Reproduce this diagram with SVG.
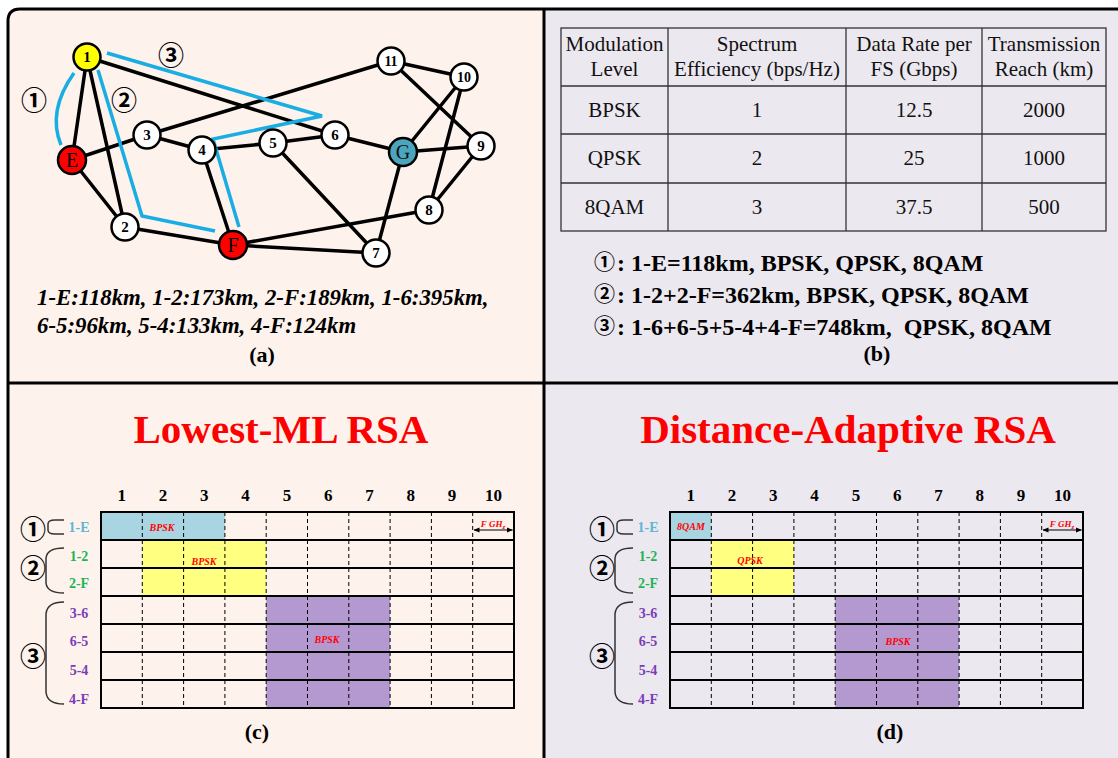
<svg xmlns="http://www.w3.org/2000/svg" width="1118" height="758" viewBox="0 0 1118 758">
<defs>
<marker id="ah" markerWidth="6" markerHeight="6" refX="5.5" refY="3" orient="auto-start-reverse" markerUnits="userSpaceOnUse"><path d="M0,0.5 L6,3 L0,5.5 z" fill="#000"/></marker>
<style>
.edge{stroke:#000;stroke-width:3.5;fill:none;stroke-linecap:round}
.route{stroke:#1aade4;stroke-width:3.5;fill:none}
.nc{stroke:#000;stroke-width:2.5}
.nl{font-family:"Liberation Serif",serif;font-weight:bold;font-size:15px;text-anchor:middle}
.nb{font-family:"Liberation Serif",serif;font-size:20px;text-anchor:middle}
.circ{font-family:"Noto Sans CJK SC","DejaVu Sans",sans-serif;font-weight:bold;font-size:26px;text-anchor:middle}
.dist{font-family:"Liberation Serif",serif;font-weight:bold;font-style:italic;font-size:22.8px}
.cap{font-family:"Liberation Serif",serif;font-weight:bold;font-size:22px;text-anchor:middle}
.tb{font-family:"Liberation Serif",serif;font-size:21px;text-anchor:middle;fill:#111}
.tl{stroke:#333;stroke-width:1.3;fill:none}
.lst{font-family:"Liberation Serif",serif;font-weight:bold;font-size:24px}
.lc{font-family:"Noto Sans CJK SC","DejaVu Sans",sans-serif;font-weight:bold;font-size:21px}
.title{font-family:"Liberation Serif",serif;font-weight:bold;font-size:41px;fill:#ff0000;text-anchor:middle}
.ch{font-family:"Liberation Serif",serif;font-weight:bold;font-size:17px;text-anchor:middle}
.rl{font-family:"Liberation Serif",serif;font-weight:bold;font-size:14px;text-anchor:middle}
.ml{font-family:"Liberation Serif",serif;font-weight:bold;font-style:italic;font-size:10px;fill:#ff0000;text-anchor:middle}
.hl{stroke:#000;stroke-width:2;fill:none}
.vl{stroke:#000;stroke-width:1;stroke-dasharray:4,3;fill:none}
.br{stroke:#333;stroke-width:1.5;fill:none}
.cb{fill:#a9d5e2}
.cy{fill:#ffff80}
.cp{fill:#b399d0}
</style>
</defs>
<rect width="1118" height="758" fill="#fff"/>
<!-- panel backgrounds -->
<path d="M8,383 V21 Q8,9 20,9 H544 V383 Z" fill="#fdf3ec"/>
<rect x="544" y="9" width="574" height="374" fill="#ece8f0"/>
<rect x="8" y="383" width="536" height="375" fill="#fdf3ec"/>
<rect x="544" y="383" width="574" height="375" fill="#ece8f0"/>
<g id="frame" stroke="#000" stroke-width="3" fill="none">
<path d="M8,758 V21 Q8,9 20,9 H1118"/>
<line x1="544" y1="9" x2="544" y2="758"/>
<line x1="8" y1="383" x2="1118" y2="383"/>
</g>

<!-- (a) network -->
<g id="connectors">
<line class="edge" x1="87" y1="57" x2="72" y2="160"/>
<line class="edge" x1="87" y1="57" x2="125" y2="227"/>
<line class="edge" x1="87" y1="57" x2="335" y2="135"/>
<line class="edge" x1="72" y1="160" x2="147" y2="135"/>
<line class="edge" x1="147" y1="135" x2="391" y2="61"/>
<line class="edge" x1="147" y1="135" x2="202" y2="150"/>
<line class="edge" x1="202" y1="150" x2="273" y2="143"/>
<line class="edge" x1="273" y1="143" x2="335" y2="135"/>
<line class="edge" x1="335" y1="135" x2="403" y2="152"/>
<line class="edge" x1="72" y1="160" x2="125" y2="227"/>
<line class="edge" x1="125" y1="227" x2="233" y2="245"/>
<line class="edge" x1="202" y1="150" x2="233" y2="245"/>
<line class="edge" x1="273" y1="143" x2="376" y2="253"/>
<line class="edge" x1="233" y1="245" x2="376" y2="253"/>
<line class="edge" x1="233" y1="245" x2="429" y2="210"/>
<line class="edge" x1="403" y1="152" x2="376" y2="253"/>
<line class="edge" x1="403" y1="152" x2="464" y2="77"/>
<line class="edge" x1="403" y1="152" x2="481" y2="146"/>
<line class="edge" x1="391" y1="61" x2="464" y2="77"/>
<line class="edge" x1="391" y1="61" x2="481" y2="146"/>
<line class="edge" x1="464" y1="77" x2="429" y2="210"/>
<line class="edge" x1="481" y1="146" x2="429" y2="210"/>
</g>
<g id="routes">
<path class="route" d="M74,73 Q47,111 61,145"/>
<path class="route" d="M98,70 L142,216 L215,231"/>
<path class="route" d="M107,53 L322,116 L213,139 L239,227"/>
</g>
<g id="node-1"><circle class="nc" cx="87" cy="57" r="13.5" fill="#ffff00"/><text class="nl" x="87" y="62">1</text></g>
<g id="node-E"><circle class="nc" cx="72" cy="160" r="14" fill="#ff0000"/><text class="nb" x="72" y="167">E</text></g>
<g id="node-2"><circle class="nc" cx="125" cy="227" r="13.5" fill="#fff"/><text class="nl" x="125" y="232">2</text></g>
<g id="node-3"><circle class="nc" cx="147" cy="135" r="13.5" fill="#fff"/><text class="nl" x="147" y="140">3</text></g>
<g id="node-4"><circle class="nc" cx="202" cy="150" r="13.5" fill="#fff"/><text class="nl" x="202" y="155">4</text></g>
<g id="node-5"><circle class="nc" cx="273" cy="143" r="13.5" fill="#fff"/><text class="nl" x="273" y="148">5</text></g>
<g id="node-6"><circle class="nc" cx="335" cy="135" r="13.5" fill="#fff"/><text class="nl" x="335" y="140">6</text></g>
<g id="node-F"><circle class="nc" cx="233" cy="245" r="14" fill="#ff0000"/><text class="nb" x="233" y="252">F</text></g>
<g id="node-7"><circle class="nc" cx="376" cy="253" r="13.5" fill="#fff"/><text class="nl" x="376" y="258">7</text></g>
<g id="node-8"><circle class="nc" cx="429" cy="210" r="13.5" fill="#fff"/><text class="nl" x="429" y="215">8</text></g>
<g id="node-9"><circle class="nc" cx="481" cy="146" r="13.5" fill="#fff"/><text class="nl" x="481" y="151">9</text></g>
<g id="node-10"><circle class="nc" cx="464" cy="77" r="13.5" fill="#fff"/><text class="nl" x="464" y="82" style="font-size:14px">10</text></g>
<g id="node-11"><circle class="nc" cx="391" cy="61" r="13.5" fill="#fff"/><text class="nl" x="391" y="66" style="font-size:14px">11</text></g>
<g id="node-G"><circle class="nc" cx="403" cy="152" r="14" fill="#4aa5bd"/><text class="nb" x="403" y="159" style="fill:#111">G</text></g>
<g id="route-labels">
<text class="circ" x="34" y="110">①</text>
<text class="circ" x="124" y="110">②</text>
<text class="circ" x="171" y="65">③</text>
</g>
<text class="dist" x="37" y="305">1-E:118km, 1-2:173km, 2-F:189km, 1-6:395km,</text>
<text class="dist" x="37" y="333">6-5:96km, 5-4:133km, 4-F:124km</text>
<text class="cap" x="262" y="362">(a)</text>

<!-- (b) table -->
<g id="table">
<rect class="tl" x="561" y="28" width="545" height="203"/>
<line class="tl" x1="668" y1="28" x2="668" y2="231"/>
<line class="tl" x1="846" y1="28" x2="846" y2="231"/>
<line class="tl" x1="982" y1="28" x2="982" y2="231"/>
<line class="tl" x1="561" y1="86" x2="1106" y2="86"/>
<line class="tl" x1="561" y1="134" x2="1106" y2="134"/>
<line class="tl" x1="561" y1="183" x2="1106" y2="183"/>
<text class="tb" x="614.5" y="51">Modulation</text>
<text class="tb" x="614.5" y="76">Level</text>
<text class="tb" x="757" y="51">Spectrum</text>
<text class="tb" x="757" y="76">Efficiency (bps/Hz)</text>
<text class="tb" x="914" y="51">Data Rate per</text>
<text class="tb" x="914" y="76">FS (Gbps)</text>
<text class="tb" x="1044" y="51">Transmission</text>
<text class="tb" x="1044" y="76">Reach (km)</text>
<text class="tb" x="614.5" y="117">BPSK</text>
<text class="tb" x="757" y="117">1</text>
<text class="tb" x="914" y="117">12.5</text>
<text class="tb" x="1044" y="117">2000</text>
<text class="tb" x="614.5" y="165">QPSK</text>
<text class="tb" x="757" y="165">2</text>
<text class="tb" x="914" y="165">25</text>
<text class="tb" x="1044" y="165">1000</text>
<text class="tb" x="614.5" y="214">8QAM</text>
<text class="tb" x="757" y="214">3</text>
<text class="tb" x="914" y="214">37.5</text>
<text class="tb" x="1044" y="214">500</text>
</g>
<g id="route-list">
<text class="lc" x="594" y="269">①</text>
<text class="lst" x="617" y="271">: 1-E=118km, BPSK, QPSK, 8QAM</text>
<text class="lc" x="594" y="301">②</text>
<text class="lst" x="617" y="303">: 1-2+2-F=362km, BPSK, QPSK, 8QAM</text>
<text class="lc" x="594" y="333">③</text>
<text class="lst" x="617" y="335" xml:space="preserve">: 1-6+6-5+5-4+4-F=748km,  QPSK, 8QAM</text>
</g>
<text class="cap" x="877" y="361">(b)</text>

<!-- (c) -->
<text class="title" x="281" y="443">Lowest-ML RSA</text>
<g id="grid-c">
<rect class="cb" x="101" y="512" width="123.9" height="28"/>
<rect class="cy" x="142.3" y="540" width="123.9" height="56"/>
<rect class="cp" x="266.2" y="596" width="123.9" height="112"/>
<g class="vl">
<line x1="142.3" y1="512" x2="142.3" y2="708"/><line x1="183.6" y1="512" x2="183.6" y2="708"/><line x1="224.9" y1="512" x2="224.9" y2="708"/><line x1="266.2" y1="512" x2="266.2" y2="708"/><line x1="307.5" y1="512" x2="307.5" y2="708"/><line x1="348.8" y1="512" x2="348.8" y2="708"/><line x1="390.1" y1="512" x2="390.1" y2="708"/><line x1="431.4" y1="512" x2="431.4" y2="708"/><line x1="472.7" y1="512" x2="472.7" y2="708"/>
</g>
<g class="hl">
<line x1="101" y1="540" x2="514" y2="540"/><line x1="101" y1="568" x2="514" y2="568"/><line x1="101" y1="596" x2="514" y2="596"/><line x1="101" y1="624" x2="514" y2="624"/><line x1="101" y1="652" x2="514" y2="652"/><line x1="101" y1="680" x2="514" y2="680"/>
<rect x="101" y="512" width="413" height="196"/>
</g>
<text class="ch" x="121.7" y="501">1</text><text class="ch" x="163" y="501">2</text><text class="ch" x="204.3" y="501">3</text><text class="ch" x="245.6" y="501">4</text><text class="ch" x="286.9" y="501">5</text><text class="ch" x="328.2" y="501">6</text><text class="ch" x="369.5" y="501">7</text><text class="ch" x="410.8" y="501">8</text><text class="ch" x="452.1" y="501">9</text><text class="ch" x="493.4" y="501">10</text>
<text class="ml" x="162" y="531">BPSK</text>
<text class="ml" x="204" y="565">BPSK</text>
<text class="ml" x="327" y="643">BPSK</text>
<text class="ml" x="493" y="527" style="font-size:9px">F GH<tspan style="font-size:7px" dy="1.5">z</tspan></text>
<line x1="474" y1="530" x2="512.5" y2="530" stroke="#000" stroke-width="1" marker-start="url(#ah)" marker-end="url(#ah)"/>
<text class="rl" x="79" y="532" fill="#62b5d3">1-E</text>
<text class="rl" x="79" y="561" fill="#1eb457">1-2</text>
<text class="rl" x="79" y="588" fill="#1eb457">2-F</text>
<text class="rl" x="79" y="618" fill="#7a3db5">3-6</text>
<text class="rl" x="79" y="646" fill="#7a3db5">6-5</text>
<text class="rl" x="79" y="675" fill="#7a3db5">5-4</text>
<text class="rl" x="79" y="704" fill="#7a3db5">4-F</text>
<path class="br" d="M64,520 H55 Q48,520 48,524 V530 Q48,534 55,534 H64"/>
<path class="br" d="M64,548 Q47,548 46,558 V583 Q47,593 64,593"/>
<path class="br" d="M64,602 Q47,602 46,614 V692 Q47,704 64,704"/>
<text class="circ" x="33" y="539">①</text>
<text class="circ" x="33" y="578">②</text>
<text class="circ" x="33" y="666">③</text>
</g>
<text class="cap" x="257" y="739">(c)</text>

<!-- (d) -->
<text class="title" x="848" y="443">Distance-Adaptive RSA</text>
<g id="grid-d" transform="translate(569,0)">
<rect class="cb" x="101" y="512" width="41.3" height="28"/>
<rect class="cy" x="142.3" y="540" width="82.6" height="56"/>
<rect class="cp" x="266.2" y="596" width="123.9" height="112"/>
<g class="vl">
<line x1="142.3" y1="512" x2="142.3" y2="708"/><line x1="183.6" y1="512" x2="183.6" y2="708"/><line x1="224.9" y1="512" x2="224.9" y2="708"/><line x1="266.2" y1="512" x2="266.2" y2="708"/><line x1="307.5" y1="512" x2="307.5" y2="708"/><line x1="348.8" y1="512" x2="348.8" y2="708"/><line x1="390.1" y1="512" x2="390.1" y2="708"/><line x1="431.4" y1="512" x2="431.4" y2="708"/><line x1="472.7" y1="512" x2="472.7" y2="708"/>
</g>
<g class="hl">
<line x1="101" y1="540" x2="514" y2="540"/><line x1="101" y1="568" x2="514" y2="568"/><line x1="101" y1="596" x2="514" y2="596"/><line x1="101" y1="624" x2="514" y2="624"/><line x1="101" y1="652" x2="514" y2="652"/><line x1="101" y1="680" x2="514" y2="680"/>
<rect x="101" y="512" width="413" height="196"/>
</g>
<text class="ch" x="121.7" y="501">1</text><text class="ch" x="163" y="501">2</text><text class="ch" x="204.3" y="501">3</text><text class="ch" x="245.6" y="501">4</text><text class="ch" x="286.9" y="501">5</text><text class="ch" x="328.2" y="501">6</text><text class="ch" x="369.5" y="501">7</text><text class="ch" x="410.8" y="501">8</text><text class="ch" x="452.1" y="501">9</text><text class="ch" x="493.4" y="501">10</text>
<text class="ml" x="122" y="530">8QAM</text>
<text class="ml" x="181" y="564">QPSK</text>
<text class="ml" x="329" y="645">BPSK</text>
<text class="ml" x="493" y="527" style="font-size:9px">F GH<tspan style="font-size:7px" dy="1.5">z</tspan></text>
<line x1="474" y1="530" x2="512.5" y2="530" stroke="#000" stroke-width="1" marker-start="url(#ah)" marker-end="url(#ah)"/>
<text class="rl" x="79" y="532" fill="#62b5d3">1-E</text>
<text class="rl" x="79" y="561" fill="#1eb457">1-2</text>
<text class="rl" x="79" y="588" fill="#1eb457">2-F</text>
<text class="rl" x="79" y="618" fill="#7a3db5">3-6</text>
<text class="rl" x="79" y="646" fill="#7a3db5">6-5</text>
<text class="rl" x="79" y="675" fill="#7a3db5">5-4</text>
<text class="rl" x="79" y="704" fill="#7a3db5">4-F</text>
<path class="br" d="M64,520 H55 Q48,520 48,524 V530 Q48,534 55,534 H64"/>
<path class="br" d="M64,548 Q47,548 46,558 V583 Q47,593 64,593"/>
<path class="br" d="M64,602 Q47,602 46,614 V692 Q47,704 64,704"/>
<text class="circ" x="33" y="539">①</text>
<text class="circ" x="33" y="578">②</text>
<text class="circ" x="33" y="666">③</text>
</g>
<text class="cap" x="890" y="739">(d)</text>
</svg>
